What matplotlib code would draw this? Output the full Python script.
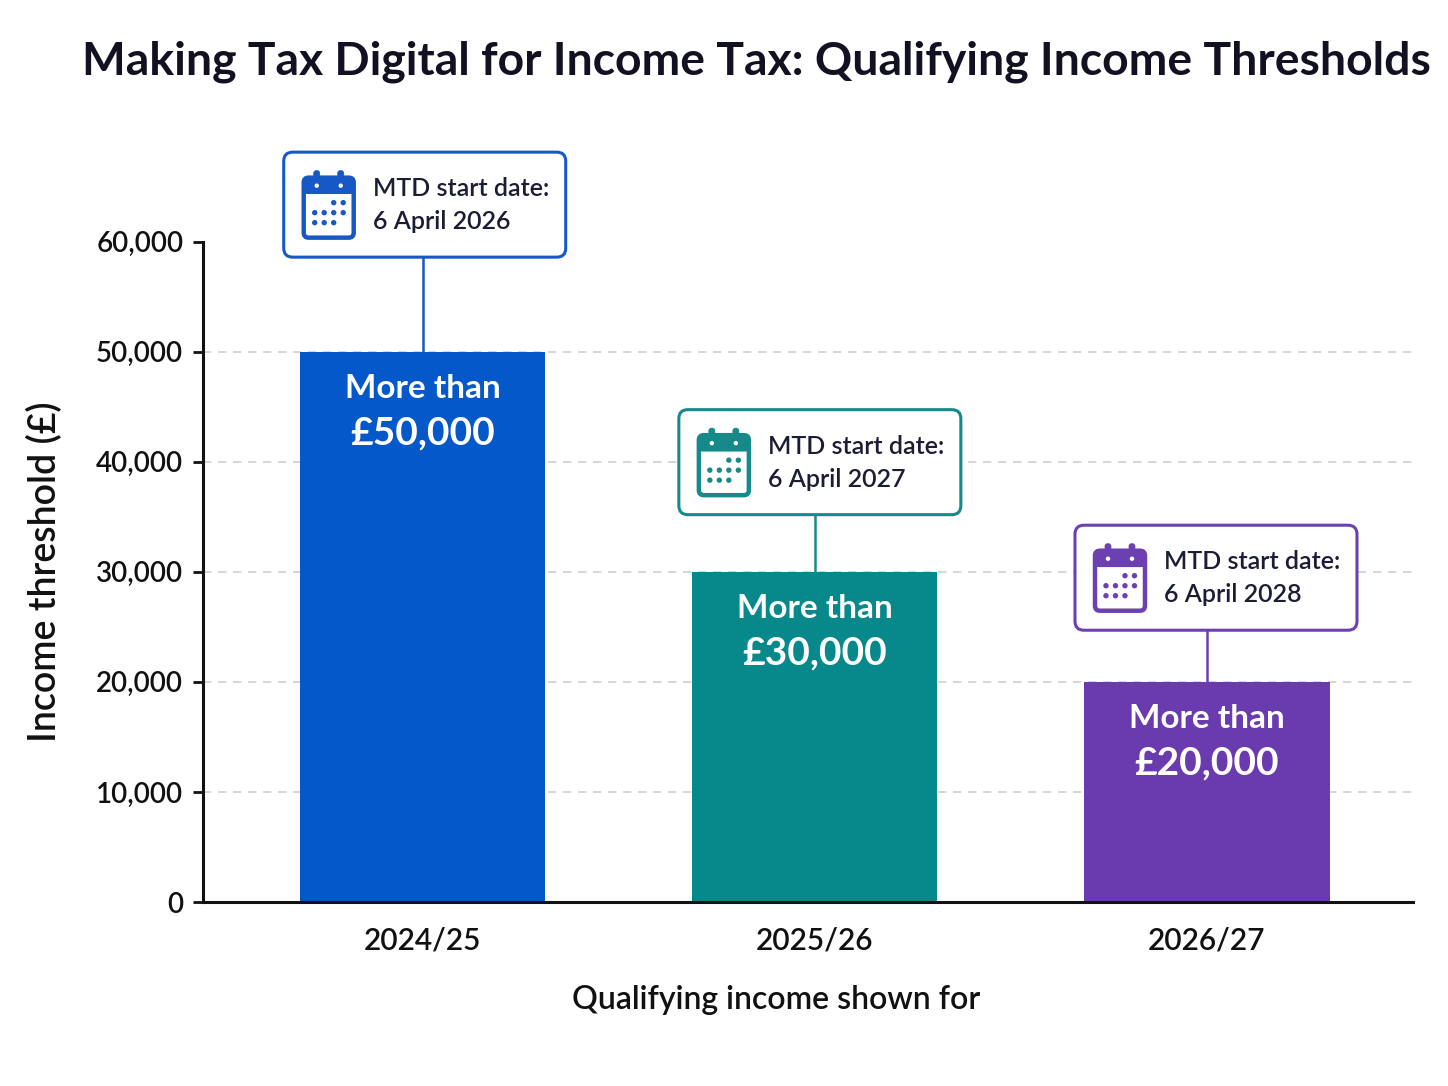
import matplotlib.pyplot as plt
from matplotlib.patches import FancyBboxPatch, Circle
from matplotlib.transforms import IdentityTransform
from matplotlib.ticker import FuncFormatter

plt.rcParams['font.family'] = ['Lato', 'DejaVu Sans']

years = ['2024/25', '2025/26', '2026/27']
thresholds = [50000, 30000, 20000]
start_dates = ['6 April 2026', '6 April 2027', '6 April 2028']
bar_colors = ['#0558C9', '#07888A', '#6A3BAF']
edge_colors = ['#1658C6', '#16898B', '#6C40B0']

# gap between bar top and callout bottom (data units), and small sideways shift (px)
callout_gap = [8600, 5200, 4700]
callout_shift = [2, 5, 9]

TXT = '#1a1d33'
W = 'semibold'

fig = plt.figure(figsize=(14.48, 10.86), dpi=100)
ax = fig.add_axes([0.140, 0.1694, 0.836, 0.608])

ax.set_ylim(0, 60000)
ax.set_xlim(-0.561, 2.526)
ax.set_yticks(range(0, 60001, 10000))
ax.yaxis.set_major_formatter(FuncFormatter(lambda v, p: f'{int(v):,}'))
ax.set_xticks([])

for s in ['top', 'right']:
    ax.spines[s].set_visible(False)
ax.spines['left'].set_linewidth(2.2)
ax.spines['bottom'].set_linewidth(2.2)
ax.spines['left'].set_color('#111111')
ax.spines['bottom'].set_color('#111111')
ax.tick_params(axis='y', length=7, width=2, pad=7, labelsize=20, labelcolor='#111111', color='#111111')
for lab in ax.get_yticklabels():
    lab.set_fontweight(W)

for g in range(10000, 60000, 10000):
    ax.axhline(g, color='#cfcfcf', lw=1.2, ls=(0, (5, 4)), zorder=0)

ax.bar(range(len(years)), thresholds, width=0.625, color=bar_colors, zorder=2)

for i, (y, v) in enumerate(zip(years, thresholds)):
    ax.text(i, -0.058, y, transform=ax.get_xaxis_transform(), ha='center', va='center',
            fontsize=21.5, fontweight=W, color='#111111')
    ax.annotate('More than', (i, v), xytext=(0, -26.5), textcoords='offset points',
                ha='center', va='center', fontsize=24, fontweight='bold', color='white', zorder=3)
    ax.annotate(f'£{v:,}', (i, v), xytext=(0, -58.5), textcoords='offset points',
                ha='center', va='center', fontsize=28, fontweight='bold', color='white', zorder=3)

ax.set_ylabel('Income threshold (£)', fontsize=27, fontweight=W, color='#111111', labelpad=24)
fig.text(776 / 1448, 1 - 1000 / 1086, 'Qualifying income shown for', ha='center', va='center',
         fontsize=23, fontweight=W, color='#111111')
fig.text(756 / 1448, 1 - 62 / 1086, 'Making Tax Digital for Income Tax: Qualifying Income Thresholds',
         ha='center', va='center', fontsize=33.3, fontweight='bold', color='#111122')

# callouts, drawn in pixel coordinates
ident = IdentityTransform()
BW, BH = 282, 105
for i, v in enumerate(thresholds):
    col = edge_colors[i]
    bx, btop = ax.transData.transform((i, v))
    _, bbot = ax.transData.transform((i, v + callout_gap[i]))
    x0 = bx + callout_shift[i] - BW / 2
    y0 = bbot
    cy = y0 + BH / 2
    ax.plot([bx, bx], [btop, bbot], color=col, lw=1.8, transform=ident, clip_on=False, zorder=3)
    box = FancyBboxPatch((x0, y0), BW, BH, boxstyle='round,pad=0,rounding_size=9',
                         fc='white', ec=col, lw=2.2, transform=ident, clip_on=False, zorder=4)
    ax.add_patch(box)
    # calendar icon
    ix, iw, ih = x0 + 20, 50, 60
    iy = cy - ih / 2 - 3
    ax.add_patch(FancyBboxPatch((ix, iy), iw, ih, boxstyle='round,pad=0,rounding_size=5',
                                fc='white', ec=col, lw=3.2, transform=ident, clip_on=False, zorder=5))
    ax.add_patch(FancyBboxPatch((ix, iy + ih - 15), iw, 15, boxstyle='round,pad=0,rounding_size=4',
                                fc=col, ec=col, lw=2, transform=ident, clip_on=False, zorder=5))
    for tx in (ix + 13, ix + iw - 13):
        ax.add_patch(FancyBboxPatch((tx - 3, iy + ih - 8), 6, 15, boxstyle='round,pad=0,rounding_size=2.5',
                                    fc=col, ec=col, lw=0.5, transform=ident, clip_on=False, zorder=6))
        ax.add_patch(Circle((tx, iy + ih - 8), 2.2, fc='white', ec='none', transform=ident,
                            clip_on=False, zorder=7))
    dots = [(2, 0), (3, 0), (0, 1), (1, 1), (2, 1), (3, 1), (0, 2), (1, 2), (2, 2)]
    for c, r in dots:
        ax.add_patch(Circle((ix + 11 + c * 9.5, iy + ih - 25 - r * 10), 2.7, fc=col, ec='none',
                            transform=ident, clip_on=False, zorder=6))
    tx0 = x0 + 89
    ax.text(tx0, cy + 16, 'MTD start date:', transform=ident, ha='left', va='center',
            fontsize=18, fontweight=W, color=TXT, zorder=6, clip_on=False)
    ax.text(tx0, cy - 17, start_dates[i], transform=ident, ha='left', va='center',
            fontsize=18, fontweight=W, color=TXT, zorder=6, clip_on=False)

fig.savefig('out.png', dpi=100, facecolor='white')
